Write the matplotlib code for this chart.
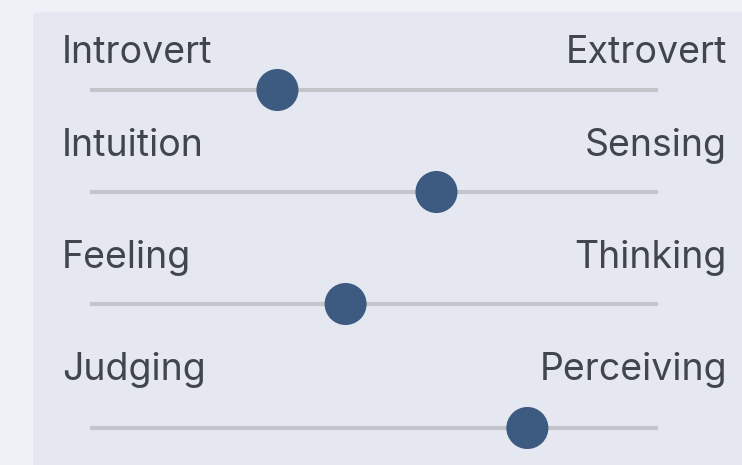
import matplotlib
matplotlib.use("Agg")
import matplotlib.pyplot as plt
from matplotlib.patches import FancyBboxPatch

# Data
left_labels = ["Introvert", "Intuition", "Feeling", "Judging"]
right_labels = ["Extrovert", "Sensing", "Thinking", "Perceiving"]
values = [33, 61, 45, 77]  # position on 0-100 scale

# Layout (pixels from top)
W, H = 742, 465
track_y = [90, 192, 304, 428]
label_base = [63, 156, 268, 380]
track_x0, track_x1 = 90, 658
label_left_px, label_right_px = 62, 727

fig = plt.figure(figsize=(W / 100, H / 100), dpi=100)
fig.patch.set_facecolor("#eff1f7")

panel = FancyBboxPatch((33 / W, -0.2), 1.2, (H - 12) / H + 0.2, boxstyle="round,pad=0,rounding_size=0.012",
                       transform=fig.transFigure, facecolor="#e5e8f0", edgecolor="none", zorder=-5)
fig.patches.append(panel)

ax = fig.add_axes([track_x0 / W, 0, (track_x1 - track_x0) / W, 1])
ax.set_zorder(2)
ax.set_xlim(0, 100)
ax.set_ylim(H, 0)
ax.axis("off")
ax.patch.set_alpha(0)

def px_to_x(px):
    return (px - track_x0) / (track_x1 - track_x0) * 100

font = dict(family=["Inter", "DejaVu Sans"], fontsize=27, color="#41454d")
for i, (ll, rl, v) in enumerate(zip(left_labels, right_labels, values)):
    y = track_y[i]
    ax.plot([0, 100], [y, y], color="#c3c5ca", lw=3, solid_capstyle="round", zorder=1)
    ax.scatter([v], [y], s=42 ** 2 * 0.52, color="#3d5b80", zorder=3, edgecolors="none")
    ax.text(px_to_x(label_left_px), label_base[i], ll, ha="left", va="baseline", clip_on=False, **font)
    ax.text(px_to_x(label_right_px), label_base[i], rl, ha="right", va="baseline", clip_on=False, **font)

fig.savefig("out.png", dpi=100, facecolor=fig.get_facecolor())
